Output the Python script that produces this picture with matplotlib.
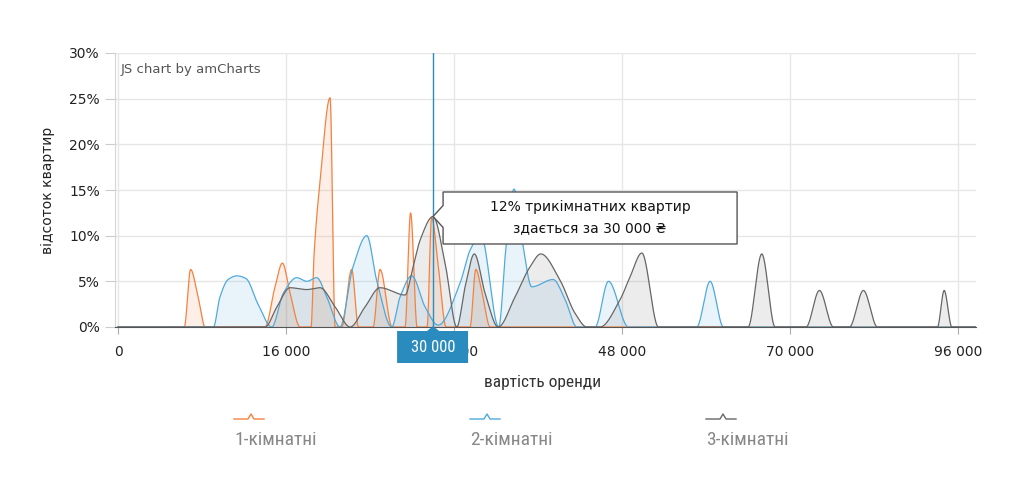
import numpy as np
import matplotlib
matplotlib.use("Agg")
import matplotlib.pyplot as plt
from matplotlib import font_manager, transforms
from matplotlib.patches import Polygon
from matplotlib.lines import Line2D

# pick a narrow font for the amCharts-like labels, if there is one
names = {f.name for f in font_manager.fontManager.ttflist}
narrow = next((n for n in ["Roboto Condensed", "Liberation Sans Narrow", "Roboto"] if n in names), "DejaVu Sans")

# category axis: one step = one category (1000 UAH up to 48 000)
tick_pos = [0, 16, 32, 48, 64, 80]
tick_labels = ["0", "16 000", "32 000", "48 000", "70 000", "96 000"]
x_end = 81.7

# 1-кімнатні
one_x = [0, 6.31, 6.91, 7.62, 8.29, 14.0, 14.95, 15.65, 16.38, 17.33, 18.38, 18.67, 19.24, 20.19, 20.67,
         21.3, 22.25, 22.89, 24.29, 24.95, 26.1, 27.33, 27.86, 28.48, 29.43, 29.86, 30.5, 31.24,
         33.52, 34.07, 34.67, 35.43, x_end]
one_y = [0, 0, 6.3, 3.3, 0, 0, 4.4, 7.0, 3.7, 0, 0, 8.0, 16.0, 25.1, 0,
         0, 6.3, 0, 0, 6.3, 0, 0, 12.5, 0, 0, 12.0, 6.6, 0,
         0, 6.3, 3.7, 0, 0]

# 2-кімнатні
two_x = [0, 9.08, 9.71, 10.48, 11.33, 12.19, 13.33, 14.64, 15.74, 17.02, 17.97, 18.92, 19.87, 21.14,
         22.38, 23.69, 24.63, 26.07, 26.86, 27.97, 29.24, 30.48, 32.57, 33.52, 34.54, 36.25,
         36.95, 37.71, 38.48, 39.4, 41.43, 42.57, 43.69, 45.43, 46.7, 48.6, 55.11, 56.38, 57.65, x_end]
two_y = [0, 0, 3.3, 5.2, 5.6, 5.3, 2.5, 0, 3.7, 5.4, 5.0, 5.4, 3.3, 0,
         6.6, 10.0, 5.1, 0, 3.3, 5.6, 2.2, 0.2, 4.8, 8.4, 10.1, 0,
         8.8, 15.1, 9.5, 4.4, 5.2, 3.0, 0, 0, 5.0, 0, 0, 5.0, 0, 0]

# 3-кімнатні
three_x = [0, 14.0, 15.13, 16.38, 17.97, 19.24, 20.67, 22.1, 23.52, 24.95, 27.33, 28.1, 28.76, 30.0,
           31.14, 32.26, 33.05, 33.93, 34.95, 36.2, 37.81, 39.24, 40.26, 42.1, 43.52, 44.64,
           45.9, 47.81, 48.76, 49.88, 51.46, 60.0, 61.3, 62.57, 65.52, 66.79, 68.12,
           69.65, 70.98, 72.31, 78.03, 78.67, 79.4, x_end]
three_y = [0, 0, 2.2, 4.3, 4.1, 4.3, 2.2, 0, 2.2, 4.3, 3.5, 6.6, 9.5, 12.1,
           7.0, 0, 4.4, 8.0, 3.7, 0, 3.3, 6.6, 8.0, 5.1, 1.5, 0,
           0, 3.0, 5.5, 8.1, 0, 0, 8.0, 0, 0, 4.0, 0,
           0, 4.0, 0, 0, 4.0, 0, 0]

series = [("1-кімнатні", one_x, one_y, "#f5813f"),
          ("2-кімнатні", two_x, two_y, "#4fa9dc"),
          ("3-кімнатні", three_x, three_y, "#666666")]

cursor_pos = 30
tip_text = "12% трикімнатних квартир\nздається за 30 000 ₴"
tip_value = 12.1


def pchip(x, y, xs):
    # monotone cubic, keeps the smoothed line from dipping under zero
    x = np.asarray(x, float)
    y = np.asarray(y, float)
    h = np.diff(x)
    d = np.diff(y) / h
    m = np.zeros_like(y)
    for k in range(1, len(x) - 1):
        if d[k - 1] * d[k] > 0:
            w1 = 2 * h[k] + h[k - 1]
            w2 = h[k] + 2 * h[k - 1]
            m[k] = (w1 + w2) / (w1 / d[k - 1] + w2 / d[k])
    idx = np.clip(np.searchsorted(x, xs) - 1, 0, len(x) - 2)
    t = (xs - x[idx]) / h[idx]
    h00 = 2 * t**3 - 3 * t**2 + 1
    h10 = t**3 - 2 * t**2 + t
    h01 = -2 * t**3 + 3 * t**2
    h11 = t**3 - t**2
    return h00 * y[idx] + h10 * h[idx] * m[idx] + h01 * y[idx + 1] + h11 * h[idx] * m[idx + 1]


W, H = 1025, 484
fig = plt.figure(figsize=(W / 100, H / 100), dpi=100)
ax = fig.add_axes([115 / W, 1 - 327 / H, 861 / W, 274 / H])

xs = np.linspace(0, x_end, 4000)
for name, sx, sy, col in series:
    ys = pchip(sx, sy, xs)
    ax.fill_between(xs, ys, color=col, alpha=0.12, lw=0)
    ax.plot(xs, ys, color=col, lw=0.9)

ax.set_xlim(-0.29, x_end)
ax.set_ylim(0, 30)
ax.set_xticks(tick_pos)
ax.set_xticklabels(tick_labels)
ax.set_yticks(range(0, 31, 5))
ax.set_yticklabels([f"{v}%" for v in range(0, 31, 5)])
ax.grid(color="#e6e6e6", lw=1)
ax.set_axisbelow(True)
for s in ["top", "right"]:
    ax.spines[s].set_visible(False)
ax.spines["left"].set_color("#d5d5d5")
ax.spines["bottom"].set_color("#555555")
ax.tick_params(axis="x", length=5, color="#aaaaaa", labelsize=10, labelcolor="#222222", pad=8)
ax.tick_params(axis="y", length=7, color="#cccccc", labelsize=10, labelcolor="#222222", pad=4)

ax.text(0.007, 0.94, "JS chart by amCharts", transform=ax.transAxes, fontsize=9.5,
        color="#555555", va="center", ha="left")

# cursor line and its label
ax.axvline(cursor_pos, color="#2b8cbe", lw=1, zorder=5)
tr_c = transforms.Affine2D() + transforms.ScaledTranslation(cursor_pos, 0, ax.transData)
ax.add_artist(Polygon([(-36, -4), (-6, -4), (0, 1), (6, -4), (35, -4), (35, -36), (-36, -36)],
                      closed=True, fc="#2a8bbf", ec="none", transform=tr_c, zorder=10, clip_on=False))
ax.annotate("30 000", xy=(cursor_pos, 0), xytext=(0, -20), textcoords="offset pixels",
            ha="center", va="center", color="white", fontsize=12, family=narrow,
            zorder=11, annotation_clip=False)

# balloon
tr_b = transforms.Affine2D() + transforms.ScaledTranslation(cursor_pos, tip_value, ax.transData)
ax.add_artist(Polygon([(10, 24.5), (304, 24.5), (304, -27.5), (10, -27.5), (10, -11), (0, 0), (10, 11)],
                      closed=True, fc="white", ec="#555555", lw=1, transform=tr_b, zorder=10, clip_on=False))
ax.annotate(tip_text, xy=(cursor_pos, tip_value), xytext=(157, -1), textcoords="offset pixels",
            ha="center", va="center", fontsize=10, color="#111111", linespacing=1.6,
            zorder=11, annotation_clip=False)

fig.text(543 / W, 1 - 382 / H, "вартість оренди", ha="center", va="center", fontsize=12.5,
         color="#333333", family=narrow)
fig.text(48 / W, 1 - 190 / H, "відсоток квартир", ha="center", va="center", rotation=90,
         fontsize=10, color="#222222")

# legend
for (name, sx, sy, col), left in zip(series, [234, 470, 706]):
    lx = np.array([0, 14, 17, 20, 30]) + left
    ly = np.array([0, 0, 5, 0, 0]) * -1 + 419
    fig.add_artist(Line2D(lx / W, 1 - ly / H, color=col, lw=1, transform=fig.transFigure))
    fig.text(left / W, 1 - 440 / H, name, ha="left", va="center", fontsize=14,
             color="#888888", family=narrow)

fig.savefig("out.png", dpi=100)
